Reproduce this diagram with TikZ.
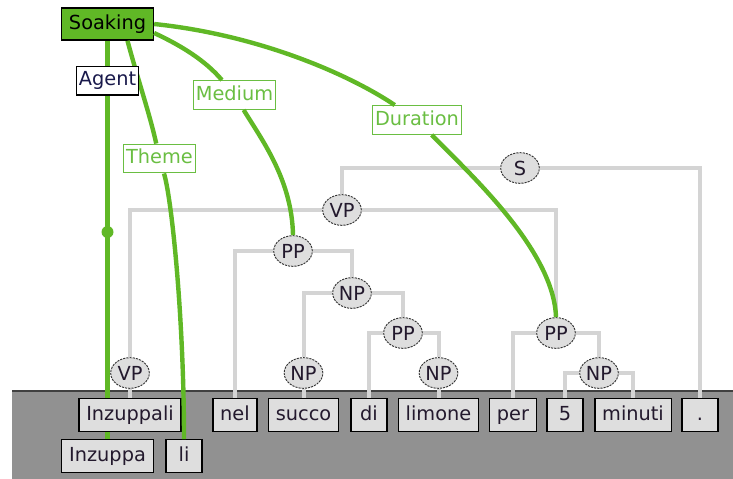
\documentclass[tikz,border=0pt]{standalone}
\usepackage{fontspec}
\setmainfont{DejaVu Sans}
\usetikzlibrary{shapes.geometric,calc}
\definecolor{relgreen}{RGB}{96,184,38}
\definecolor{lblgreen}{RGB}{106,190,66}
\definecolor{treegray}{RGB}{212,212,212}
\definecolor{boxgray}{RGB}{222,222,222}
\definecolor{bandgray}{RGB}{145,145,145}
\definecolor{wordink}{RGB}{35,25,45}
\definecolor{agentink}{RGB}{25,25,75}

\begin{document}
\begin{tikzpicture}[x=0.75pt,y=0.75pt,yscale=-1,xscale=1,
  font=\fontsize{14.5}{17}\selectfont,
  word/.style={draw=black,line width=1pt,fill=boxgray,text=wordink,inner xsep=5.5pt,inner ysep=0pt,text height=10.5pt,text depth=3pt,minimum height=24.5pt,minimum width=27pt},
  cat/.style={ellipse,draw=black!80,dash pattern=on 1.6pt off 0.8pt,line width=0.7pt,fill=boxgray,text=wordink,inner sep=0pt,minimum width=29pt,minimum height=23pt},
  branch/.style={draw=treegray,line width=3pt},
  rel/.style={draw=relgreen,line width=3.3pt},
  role/.style={draw=lblgreen,line width=0.9pt,fill=white,text=lblgreen,inner xsep=2pt,inner ysep=0pt,text height=10.5pt,text depth=3pt,minimum height=21.5pt},
  frame/.style={draw=black,line width=1.2pt,fill=relgreen,text=black,inner xsep=5.5pt,inner ysep=0pt,text height=10.5pt,text depth=3pt,minimum height=24pt}]
\useasboundingbox (0,0) rectangle (733,479);

%Shape: word band
\fill[bandgray] (12,391) rectangle (733,479);
\draw[black!75,line width=0.8pt] (12,391) -- (733,391);

% Frame and role labels
\node[frame] (soak) at (107.5,24) {Soaking};
\node[role] (medium) at (234.5,95) {Medium};
\node[role] (theme) at (159.5,158.5) {Theme};
\node[role] (duration) at (417,120) {Duration};

% Lower word row
\node[word] (inzuppa) at (107.5,456) {Inzuppa};
\node[word] (li) at (184,456) {li};

% Agent
\draw[rel] (soak.south) -- (inzuppa.north);
\node[circle,fill=relgreen,inner sep=0pt,minimum size=9pt] (agdot) at (107.5,232) {};

% Upper word row
\node[word] (inzuppali) at (130,415) {Inzuppali};
\node[word] (nel) at (235,415) {nel};
\node[word] (succo) at (303.5,415) {succo};
\node[word] (di) at (369,415) {di};
\node[word] (limone) at (438.5,415) {limone};
\node[word] (per) at (513,415) {per};
\node[word] (five) at (565,415) {5};
\node[word] (minuti) at (633,415) {minuti};
\node[word] (period) at (700,415) {.};

% Phrase nodes
\node[cat] (s) at (520,168) {S};
\node[cat] (vp1) at (342,210) {VP};
\node[cat] (pp1) at (293,251) {PP};
\node[cat] (np1) at (352,293) {NP};
\node[cat] (pp2) at (403,333) {PP};
\node[cat] (pp3) at (556,333) {PP};
\node[cat] (vp2) at (130,373) {VP};
\node[cat] (np2) at (303.5,373) {NP};
\node[cat] (np3) at (438.5,373) {NP};
\node[cat] (np4) at (599,373) {NP};

% Tree branches
\draw[branch] (s) -| (vp1);
\draw[branch] (s) -| (period);
\draw[branch] (vp1) -| (vp2);
\draw[branch] (vp1) -| (pp3);
\draw[branch] (pp1) -| (nel);
\draw[branch] (pp1) -| (np1);
\draw[branch] (np1) -| (np2);
\draw[branch] (np1) -| (pp2);
\draw[branch] (pp2) -| (di);
\draw[branch] (pp2) -| (np3);
\draw[branch] (pp3) -| (per);
\draw[branch] (pp3) -| (np4);
\draw[branch] (np4) -| (five);
\draw[branch] (np4) -| (minuti);
\draw[branch] (vp2) -- (inzuppali);
\draw[branch] (np2) -- (succo);
\draw[branch] (np3) -- (limone);

% Theme, Medium, Duration
\draw[rel] ($(soak.south)+(20,0)$) .. controls (138,80) and (150,115) .. (theme);
\draw[rel] (theme) .. controls (172,200) and (184,320) .. (li.north);
\draw[rel] ($(soak.east)+(0,9)$) .. controls (180,45) and (205,60) .. (medium);
\draw[rel] (medium) .. controls (262,140) and (292,180) .. (pp1.north);
\draw[rel] (soak.east) .. controls (260,35) and (350,75) .. (duration);
\draw[rel] (duration) .. controls (468,172) and (554,250) .. (pp3.north);

\node[draw=black,line width=1pt,fill=white,text=agentink,inner xsep=2pt,inner ysep=0pt,text height=10.5pt,text depth=3pt,minimum height=21.5pt] (agent) at (107.5,80.5) {Agent};
\end{tikzpicture}
\end{document}
